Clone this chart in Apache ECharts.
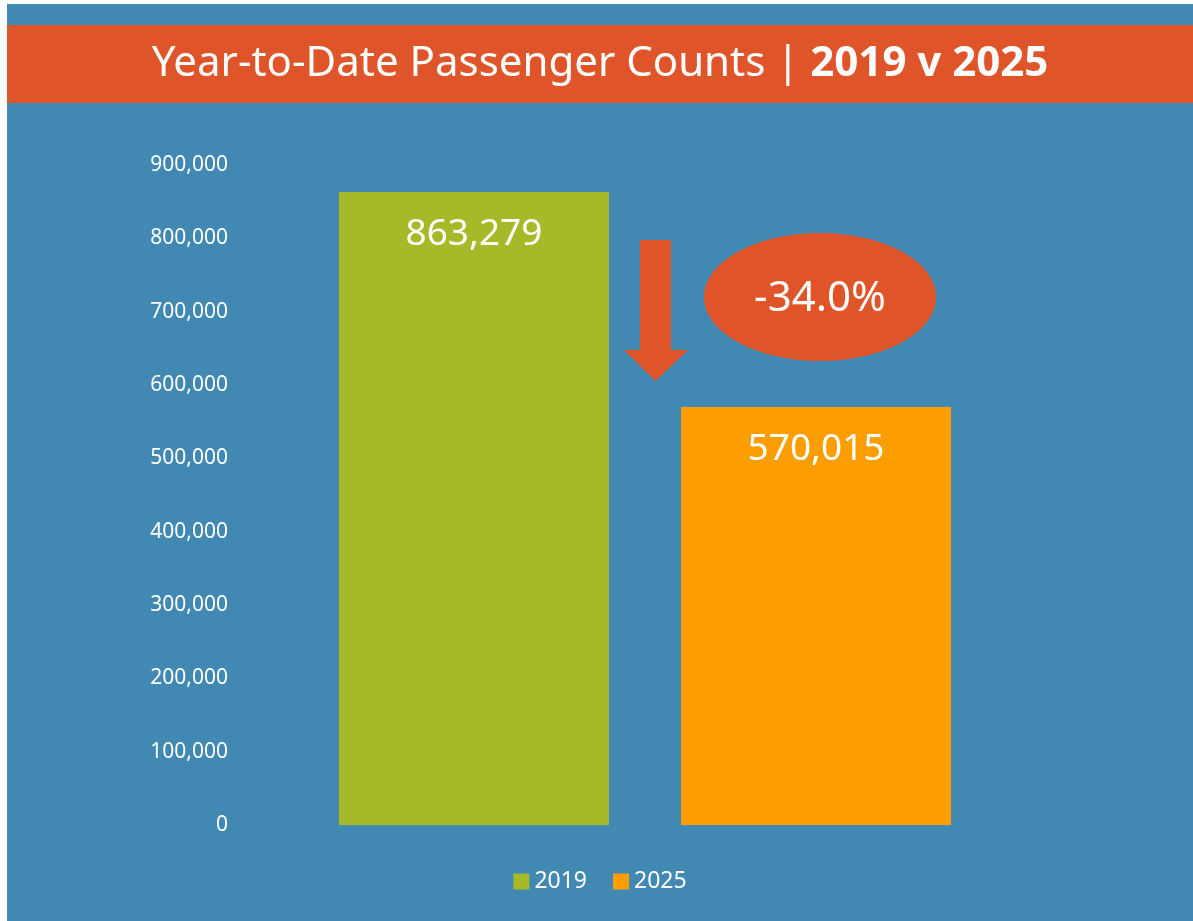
<!DOCTYPE html>
<html>
<head>
<meta charset="utf-8">
<script src="https://cdn.jsdelivr.net/npm/echarts@6/dist/echarts.min.js"></script>
<style>
  html, body { margin: 0; padding: 0; background: #ffffff; }
  #chart { position: absolute; left: 7px; top: 4px; width: 1186px; height: 917px; }
</style>
</head>
<body>
<div id="chart"></div>
<script>
// data
const categories = ['YTD'];
const seriesNames = ['2019', '2025'];
const values = [863279, 570015];
const colors = ['#A7B829', '#FC9D00'];
const yTicks = [0, 100000, 200000, 300000, 400000, 500000, 600000, 700000, 800000, 900000];

const pctChange = ((values[1] - values[0]) / values[0] * 100).toFixed(1) + '%';
const fmt = v => v.toLocaleString('en-US');

const chart = echarts.init(document.getElementById('chart'));

const option = {
  backgroundColor: '#4189B3',
  animation: false,
  title: {
    text: '{r|Year-to-Date Passenger Counts | }{b|2019 v 2025}',
    left: 'center',
    top: 34,
    textStyle: {
      rich: {
        r: { color: '#fff', fontSize: 42, fontWeight: 'normal', fontFamily: 'Noto Sans' },
        b: { color: '#fff', fontSize: 42, fontWeight: 'bold', fontFamily: 'Noto Sans' }
      }
    }
  },
  grid: { left: 233, right: 143, top: 161, bottom: 96 },
  legend: {
    bottom: 23,
    left: 'center',
    itemWidth: 16,
    itemHeight: 16,
    itemGap: 26,
    icon: 'rect',
    textStyle: { color: '#fff', fontSize: 23, fontFamily: 'Noto Sans' },
    data: seriesNames
  },
  xAxis: {
    type: 'category',
    data: categories,
    axisLine: { show: false },
    axisTick: { show: false },
    axisLabel: { show: false }
  },
  yAxis: {
    type: 'value',
    min: yTicks[0],
    max: yTicks[yTicks.length - 1],
    interval: yTicks[1] - yTicks[0],
    splitLine: { show: false },
    axisLine: { show: false },
    axisTick: { show: false },
    axisLabel: {
      color: '#fff',
      fontSize: 21,
      fontFamily: 'Noto Sans',
      margin: 12,
      formatter: v => fmt(v)
    }
  },
  series: seriesNames.map((name, i) => ({
    name: name,
    type: 'bar',
    data: [values[i]],
    barWidth: 270,
    barGap: '26.7%',
    itemStyle: { color: colors[i] },
    label: {
      show: true,
      position: 'insideTop',
      distance: 24,
      color: '#fff',
      fontSize: 37,
      fontFamily: 'Noto Sans',
      formatter: p => fmt(p.value)
    }
  })),
  graphic: [
    // title band
    {
      type: 'rect', z: -1,
      shape: { x: 0, y: 21, width: 1186, height: 78 },
      style: { fill: '#DF5529' }
    },
    // down arrow
    {
      type: 'polygon',
      shape: { points: [[633, 236], [664, 236], [664, 346], [681, 346], [648.5, 377], [617, 346], [633, 346]] },
      style: { fill: '#DF5529' }
    },
    // change bubble
    {
      type: 'ellipse',
      shape: { cx: 813, cy: 293, rx: 116, ry: 64 },
      style: { fill: '#DF5529' }
    },
    {
      type: 'text',
      x: 813, y: 295,
      style: {
        text: pctChange.startsWith('-') ? pctChange : '+' + pctChange,
        fill: '#fff',
        fontSize: 42,
        fontFamily: 'Noto Sans',
        align: 'center',
        verticalAlign: 'middle'
      }
    }
  ]
};

chart.setOption(option);
</script>
</body>
</html>
